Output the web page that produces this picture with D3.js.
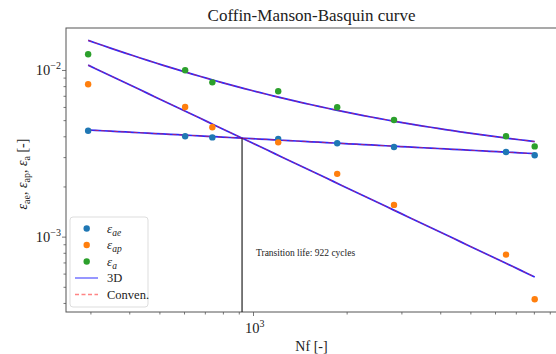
<!DOCTYPE html>
<html>
<head>
<meta charset="utf-8">
<script src="https://cdn.jsdelivr.net/npm/d3@7"></script>
<style>
  html, body { margin: 0; padding: 0; background: #fff; }
  svg { display: block; }
  text { font-family: "Liberation Serif", "Times New Roman", serif; fill: #222; }
</style>
</head>
<body>
<svg id="chart" width="556" height="354"></svg>
<script>
// Fatigue test results: cycles to failure and strain amplitudes
const nf = [295, 605, 740, 1205, 1865, 2840, 6510, 8050];
const epsAe = [4.32e-3, 4.0e-3, 3.94e-3, 3.85e-3, 3.63e-3, 3.45e-3, 3.22e-3, 3.08e-3];
const epsAp = [8.21e-3, 6.0e-3, 4.53e-3, 3.68e-3, 2.38e-3, 1.55e-3, 7.8e-4, 4.21e-4];
const epsA  = [1.242e-2, 9.96e-3, 8.43e-3, 7.45e-3, 5.97e-3, 5.01e-3, 4.0e-3, 3.48e-3];

// Fitted Basquin (elastic) and Coffin-Manson (plastic) coefficients: eps = A * Nf^k
const fit3D    = { elasticA: 7.66e-3, elasticK: -0.0989, plasticA: 1.640, plasticK: -0.885 };
const fitConv  = { elasticA: 7.66e-3, elasticK: -0.0989, plasticA: 1.640, plasticK: -0.885 };
const transitionLife = 922;

const xTicksMajor = [1000];
const xTickLabels = [["10", "3"]];
const yTicksMajor = [1e-3, 1e-2];
const yTickLabels = [["10", "\u22123"], ["10", "\u22122"]];

const xDomain = [250.4, 9495];
const yDomain = [3.53e-4, 1.786e-2];

const svg = d3.select("#chart");
const L = 66, R = 557, T = 28, B = 312;

const x = d3.scaleLog().domain(xDomain).range([L, R]);
const y = d3.scaleLog().domain(yDomain).range([B, T]);

const colors = { ae: "#1f77b4", ap: "#ff7f0e", a: "#2ca02c" };
const axisColor = "#555";
const blue = "#1010ff", red = "#ff2020";

// minor tick values inside the domains
function minorTicks(domain) {
  const out = [];
  for (let e = Math.floor(Math.log10(domain[0])); e <= Math.ceil(Math.log10(domain[1])); e++) {
    for (let m = 2; m <= 9; m++) {
      const v = m * Math.pow(10, e);
      if (v >= domain[0] && v <= domain[1]) out.push(v);
    }
  }
  return out;
}

// axes
const gx = svg.append("g").attr("transform", `translate(0,${B})`);
gx.call(d3.axisBottom(x).tickValues(xTicksMajor).tickSize(4).tickFormat(""));
const gxm = svg.append("g").attr("transform", `translate(0,${B})`);
gxm.call(d3.axisBottom(x).tickValues(minorTicks(xDomain)).tickSize(2.5).tickFormat(""));

const gy = svg.append("g").attr("transform", `translate(${L},0)`);
gy.call(d3.axisLeft(y).tickValues(yTicksMajor).tickSize(4).tickFormat(""));
const gym = svg.append("g").attr("transform", `translate(${L},0)`);
gym.call(d3.axisLeft(y).tickValues(minorTicks(yDomain)).tickSize(2.5).tickFormat(""));

[gx, gxm, gy, gym].forEach(g => {
  g.selectAll(".domain").remove();
  g.selectAll(".tick line").attr("stroke", axisColor).attr("stroke-width", 0.8);
});

// frame (right side falls just outside the view)
svg.append("rect")
  .attr("x", L).attr("y", T).attr("width", R - L).attr("height", B - T)
  .attr("fill", "none").attr("stroke", axisColor).attr("stroke-width", 1);

// tick labels with superscript exponents
xTicksMajor.forEach((v, i) => {
  const t = svg.append("text").attr("x", x(v) - 8).attr("y", B + 21)
    .attr("font-size", 14.5);
  t.append("tspan").text(xTickLabels[i][0]);
  t.append("tspan").attr("font-size", 10).attr("dy", -6).text(xTickLabels[i][1]);
});
yTicksMajor.forEach((v, i) => {
  const t = svg.append("text").attr("x", L - 5).attr("y", y(v) + 5)
    .attr("text-anchor", "end").attr("font-size", 14.5);
  t.append("tspan").text(yTickLabels[i][0]);
  t.append("tspan").attr("font-size", 10).attr("dy", -6).text(yTickLabels[i][1]);
});

// title and axis labels
svg.append("text").attr("x", (L + R) / 2).attr("y", 21)
  .attr("text-anchor", "middle").attr("font-size", 17)
  .text("Coffin-Manson-Basquin curve");

svg.append("text").attr("x", (L + R) / 2).attr("y", 351)
  .attr("text-anchor", "middle").attr("font-size", 14)
  .text("Nf [-]");

const yl = svg.append("text")
  .attr("transform", `translate(27,${(T + B) / 2 + 4}) rotate(-90)`)
  .attr("text-anchor", "middle").attr("font-size", 14);
function eps(parent, sub, trailing) {
  parent.append("tspan").attr("font-style", "italic").text("\u03b5");
  parent.append("tspan").attr("font-size", 10).attr("dy", 3).text(sub);
  parent.append("tspan").attr("dy", -3).text(trailing);
}
eps(yl, "ae", ", ");
eps(yl, "ap", ", ");
eps(yl, "a", " [-]");

// fitted curves
function curve(fit, part) {
  const lo = Math.log10(d3.min(nf)), hi = Math.log10(d3.max(nf));
  return d3.range(0, 61).map(i => {
    const n = Math.pow(10, lo + (hi - lo) * i / 60);
    const e = fit.elasticA * Math.pow(n, fit.elasticK);
    const p = fit.plasticA * Math.pow(n, fit.plasticK);
    return [n, part === "e" ? e : part === "p" ? p : e + p];
  });
}
const line = d3.line().x(d => x(d[0])).y(d => y(d[1]));

["e", "p", "t"].forEach(part => {
  svg.append("path").attr("d", line(curve(fit3D, part)))
    .attr("fill", "none").attr("stroke", blue).attr("stroke-opacity", 0.9)
    .attr("stroke-width", 1.7);
});
["e", "p", "t"].forEach(part => {
  svg.append("path").attr("d", line(curve(fitConv, part)))
    .attr("fill", "none").attr("stroke", red).attr("stroke-opacity", 0.6)
    .attr("stroke-width", 1.0).attr("stroke-dasharray", "4,2.5");
});

// transition life marker
const tElastic = fit3D.elasticA * Math.pow(transitionLife, fit3D.elasticK);
svg.append("line")
  .attr("x1", x(transitionLife)).attr("x2", x(transitionLife))
  .attr("y1", B).attr("y2", y(tElastic))
  .attr("stroke", "#222").attr("stroke-width", 1.2);

svg.append("text").attr("x", 256).attr("y", 256).attr("font-size", 9.5)
  .text(`Transition life: ${transitionLife} cycles`);

// measured points
[[epsAe, colors.ae], [epsAp, colors.ap], [epsA, colors.a]].forEach(([vals, c]) => {
  svg.append("g").selectAll("circle").data(vals).join("circle")
    .attr("cx", (d, i) => x(nf[i])).attr("cy", d => y(d))
    .attr("r", 3.2).attr("fill", c);
});

// legend
const lg = svg.append("g").attr("transform", "translate(70,217)");
lg.append("rect").attr("width", 78).attr("height", 90).attr("rx", 3)
  .attr("fill", "#fff").attr("fill-opacity", 0.8)
  .attr("stroke", "#ddd").attr("stroke-width", 1);
const rows = [
  { kind: "dot", color: colors.ae, sub: "ae" },
  { kind: "dot", color: colors.ap, sub: "ap" },
  { kind: "dot", color: colors.a, sub: "a" },
  { kind: "solid", color: blue, label: "3D" },
  { kind: "dash", color: red, label: "Conven." }
];
rows.forEach((r, i) => {
  const cy = 11.5 + i * 16.5;
  if (r.kind === "dot") {
    lg.append("circle").attr("cx", 16.7).attr("cy", cy).attr("r", 3.2).attr("fill", r.color);
    const t = lg.append("text").attr("x", 37).attr("y", cy + 4).attr("font-size", 13);
    t.append("tspan").attr("font-style", "italic").text("\u03b5");
    t.append("tspan").attr("font-size", 9.5).attr("dy", 3).attr("font-style", "italic").text(r.sub);
  } else {
    lg.append("line").attr("x1", 5).attr("x2", 28).attr("y1", cy).attr("y2", cy)
      .attr("stroke", r.color).attr("stroke-opacity", 0.55).attr("stroke-width", 1.6)
      .attr("stroke-dasharray", r.kind === "dash" ? "4,2.5" : null);
    lg.append("text").attr("x", 37).attr("y", cy + 4).attr("font-size", 12.5).text(r.label);
  }
});
</script>
</body>
</html>
